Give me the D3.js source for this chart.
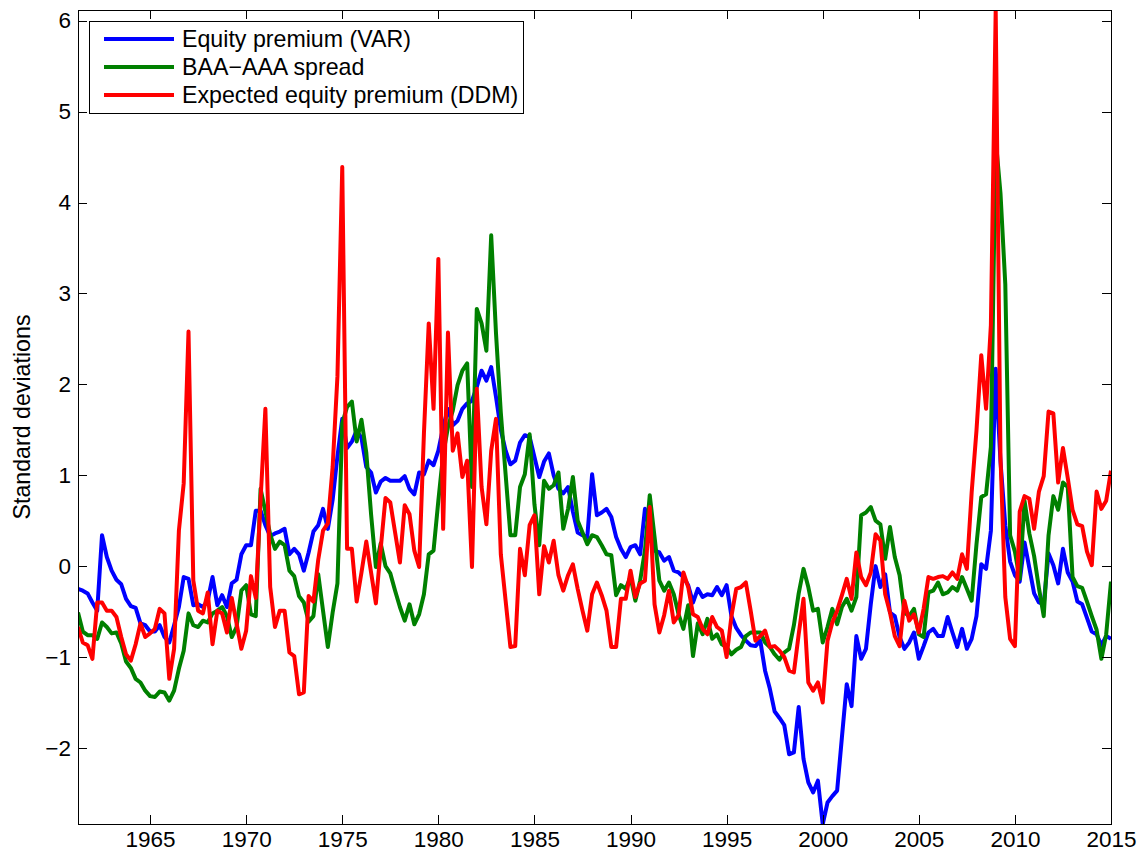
<!DOCTYPE html>
<html><head><meta charset="utf-8">
<script src="https://cdn.jsdelivr.net/npm/d3@7"></script>
<style>
body{margin:0;background:#fff}
svg{display:block}
text{font-family:"Liberation Sans",Arial,Helvetica,sans-serif;fill:#000}
</style>
</head><body>
<svg id="chart" width="1144" height="858"></svg>
<script>
// ---- data ----
const startQuarter = 1961.25;      // first observation (quarterly)
const xTicks = [1965, 1970, 1975, 1980, 1985, 1990, 1995, 2000, 2005, 2010, 2015];
const yTicks = [-2, -1, 0, 1, 2, 3, 4, 5, 6];
const seriesNames = ["Equity premium (VAR)", "BAA\u2212AAA spread", "Expected equity premium (DDM)"];
const seriesColors = ["#0000ff", "#008000", "#ff0000"];

const equityVAR = [
-0.25,-0.27,-0.30,-0.40,-0.49,0.34,0.10,-0.05,-0.15,-0.20,
-0.36,-0.44,-0.46,-0.63,-0.65,-0.72,-0.72,-0.65,-0.78,-0.84,
-0.65,-0.45,-0.12,-0.14,-0.43,-0.42,-0.45,-0.38,-0.12,-0.43,
-0.32,-0.45,-0.19,-0.15,0.13,0.23,0.23,0.61,0.61,0.45,
0.33,0.36,0.38,0.41,0.13,0.19,0.13,-0.05,0.15,0.38,
0.45,0.63,0.41,0.73,1.21,1.62,1.30,1.37,1.49,1.41,
1.09,1.03,0.81,0.93,0.97,0.94,0.94,0.94,0.99,0.85,
0.79,1.03,1.01,1.16,1.11,1.27,1.53,1.73,1.55,1.60,
1.73,1.79,1.82,1.97,2.15,2.04,2.19,1.86,1.50,1.27,
1.12,1.16,1.36,1.44,1.42,1.20,0.98,1.15,1.24,1.00,
0.85,0.80,0.87,0.60,0.37,0.34,0.32,1.01,0.56,0.59,
0.63,0.54,0.32,0.19,0.10,0.21,0.23,0.13,0.63,0.40,
0.17,0.15,0.06,0.10,-0.05,-0.07,-0.12,-0.21,-0.40,-0.25,
-0.34,-0.31,-0.32,-0.23,-0.32,-0.21,-0.55,-0.68,-0.76,-0.82,
-0.87,-0.88,-0.82,-1.15,-1.35,-1.60,-1.67,-1.75,-2.07,-2.05,
-1.55,-2.12,-2.38,-2.49,-2.36,-2.84,-2.60,-2.53,-2.47,-1.88,
-1.30,-1.54,-0.77,-1.02,-0.91,-0.42,0.00,-0.23,-0.09,-0.51,
-0.55,-0.78,-0.91,-0.84,-0.73,-1.02,-0.88,-0.73,-0.69,-0.77,
-0.77,-0.56,-0.73,-0.89,-0.69,-0.91,-0.80,-0.55,0.02,-0.03,
0.39,2.17,1.15,0.45,0.05,-0.10,-0.17,0.26,-0.02,-0.30,
-0.40,-0.42,0.14,0.01,-0.19,0.19,-0.07,-0.17,-0.39,-0.42,
-0.57,-0.72,-0.75,-0.87,-0.77,-0.80
];

const baaAaaSpread = [
-0.51,-0.72,-0.76,-0.76,-0.80,-0.62,-0.67,-0.74,-0.73,-0.85,
-1.05,-1.12,-1.24,-1.28,-1.37,-1.43,-1.44,-1.38,-1.39,-1.48,
-1.37,-1.13,-0.93,-0.52,-0.65,-0.67,-0.60,-0.62,-0.52,-0.49,
-0.45,-0.55,-0.78,-0.67,-0.27,-0.21,-0.53,-0.55,0.85,0.60,
0.35,0.19,0.27,0.23,-0.05,-0.11,-0.33,-0.40,-0.61,-0.55,
-0.09,-0.49,-0.89,-0.51,-0.19,1.57,1.75,1.81,1.37,1.61,
1.25,0.57,-0.01,0.25,0.00,-0.08,-0.27,-0.45,-0.60,-0.42,
-0.64,-0.53,-0.31,0.13,0.17,0.72,1.23,1.53,1.71,1.99,
2.15,2.23,0.87,2.83,2.67,2.37,3.64,2.56,1.69,1.01,
0.34,0.34,0.87,1.01,1.45,0.68,0.23,0.94,0.85,0.89,
1.03,0.41,0.63,0.98,0.50,0.37,0.24,0.34,0.32,0.23,
0.13,0.12,-0.32,-0.21,-0.25,-0.12,-0.38,-0.16,0.17,0.78,
0.32,-0.16,-0.27,-0.18,-0.31,-0.53,-0.69,-0.43,-0.99,-0.63,
-0.75,-0.58,-0.80,-0.75,-0.86,-0.89,-0.97,-0.92,-0.89,-0.77,
-0.73,-0.73,-0.73,-0.84,-0.89,-0.97,-1.03,-0.95,-0.91,-0.65,
-0.30,-0.03,-0.23,-0.49,-0.47,-0.84,-0.67,-0.47,-0.64,-0.45,
-0.36,-0.49,-0.34,0.56,0.59,0.65,0.50,0.46,0.08,0.43,
0.10,-0.10,-0.51,-0.55,-0.47,-0.75,-0.78,-0.29,-0.27,-0.18,
-0.31,-0.29,-0.23,-0.27,-0.12,-0.25,-0.38,0.24,0.76,0.79,
1.31,4.70,4.10,3.10,0.34,0.16,-0.14,0.72,0.36,0.11,
-0.24,-0.55,0.34,0.77,0.62,0.92,0.87,-0.12,-0.22,-0.24,
-0.39,-0.55,-0.70,-1.02,-0.75,-0.17
];

const expectedDDM = [
-0.67,-0.84,-0.87,-1.02,-0.40,-0.40,-0.49,-0.49,-0.56,-0.78,
-0.97,-1.04,-0.86,-0.63,-0.78,-0.74,-0.69,-0.47,-0.52,-1.24,
-0.91,0.39,0.91,2.58,-0.16,-0.49,-0.52,-0.29,-0.86,-0.49,
-0.52,-0.73,-0.35,-0.63,-0.91,-0.71,-0.11,-0.35,0.73,1.73,
-0.23,-0.67,-0.49,-0.49,-0.95,-0.99,-1.41,-1.39,-0.33,-0.39,
0.07,0.39,0.47,1.09,2.09,4.39,0.19,0.19,-0.39,-0.07,
0.27,-0.07,-0.41,0.19,0.75,0.70,0.37,0.04,0.67,0.57,
0.17,-0.01,1.46,2.67,1.73,3.38,0.41,2.57,1.27,1.46,
0.98,1.16,-0.01,1.95,0.87,0.46,1.27,1.62,0.13,-0.38,
-0.89,-0.88,0.19,-0.10,0.45,0.56,-0.31,0.22,0.04,0.28,
-0.10,-0.27,-0.10,0.02,-0.25,-0.49,-0.71,-0.31,-0.18,-0.32,
-0.49,-0.89,-0.89,-0.36,-0.36,-0.05,-0.34,-0.19,-0.16,0.65,
-0.42,-0.73,-0.54,-0.27,-0.62,-0.54,-0.07,-0.23,-0.53,-0.56,
-0.69,-0.75,-0.56,-0.67,-0.71,-1.00,-0.55,-0.25,-0.23,-0.18,
-0.49,-0.82,-0.77,-0.71,-0.89,-0.88,-0.93,-1.00,-1.15,-1.17,
-0.75,-0.36,-1.28,-1.37,-1.28,-1.50,-0.82,-0.62,-0.49,-0.32,
-0.14,-0.36,0.15,-0.12,-0.21,-0.07,0.35,0.28,-0.31,-0.51,
-0.77,-0.88,-0.38,-0.60,-0.53,-0.73,-0.47,-0.12,-0.14,-0.12,
-0.11,-0.14,-0.07,-0.14,0.13,-0.03,0.81,1.49,2.32,1.73,
2.65,6.12,1.20,-0.34,-0.80,-0.88,0.60,0.77,0.74,0.41,
0.82,0.99,1.70,1.68,0.92,1.30,0.97,0.62,0.46,0.44,
0.16,0.01,0.82,0.63,0.72,1.05
];

const dates = equityVAR.map((_, i) => startQuarter + i / 4);
const allSeries = [equityVAR, baaAaaSpread, expectedDDM];

// ---- layout ----
const W = 1144, H = 858;
const plot = {left: 78, right: 1111, top: 10, bottom: 824};
const svg = d3.select("#chart");
svg.append("rect").attr("width", W).attr("height", H).attr("fill", "#fff");

const x = d3.scaleLinear().domain([1961.25, 2015.0]).range([plot.left, plot.right]);
const y = d3.scaleLinear().domain([-2.837, 6.118]).range([plot.bottom, plot.top]);

svg.append("clipPath").attr("id", "clip")
  .append("rect").attr("x", plot.left).attr("y", plot.top)
  .attr("width", plot.right - plot.left).attr("height", plot.bottom - plot.top);

// ---- lines ----
const line = d3.line().x((d, i) => x(dates[i])).y(d => y(d));
const gLines = svg.append("g").attr("clip-path", "url(#clip)");
allSeries.forEach((s, k) => {
  gLines.append("path").datum(s)
    .attr("d", line)
    .attr("fill", "none")
    .attr("stroke", seriesColors[k])
    .attr("stroke-width", 4)
    .attr("stroke-linejoin", "round")
    .attr("stroke-linecap", "butt");
});

// ---- axes ----
const fs = 22.5;
const legendFs = 23.2;
const tickLen = 9;
const gx = svg.append("g").attr("transform", `translate(0,${plot.bottom})`)
  .call(d3.axisBottom(x).tickValues(xTicks).tickFormat(d3.format("d"))
    .tickSizeInner(-tickLen).tickSizeOuter(0).tickPadding(7));
const gxt = svg.append("g").attr("transform", `translate(0,${plot.top})`)
  .call(d3.axisTop(x).tickValues(xTicks).tickFormat("")
    .tickSizeInner(-tickLen).tickSizeOuter(0));
const gy = svg.append("g").attr("transform", `translate(${plot.left},0)`)
  .call(d3.axisLeft(y).tickValues(yTicks).tickFormat(d3.format("d"))
    .tickSizeInner(-tickLen).tickSizeOuter(0).tickPadding(7));
const gyr = svg.append("g").attr("transform", `translate(${plot.right},0)`)
  .call(d3.axisRight(y).tickValues(yTicks).tickFormat("")
    .tickSizeInner(-tickLen).tickSizeOuter(0));

[gx, gxt, gy, gyr].forEach(g => {
  g.selectAll("path.domain").attr("stroke", "#000").attr("stroke-width", 1).attr("shape-rendering", "crispEdges");
  g.selectAll(".tick line").attr("stroke", "#000").attr("stroke-width", 1).attr("shape-rendering", "crispEdges");
  g.selectAll(".tick text").attr("font-size", fs).attr("font-family", '"Liberation Sans",Arial,sans-serif').attr("fill", "#000");
});
// full box
svg.append("rect").attr("x", plot.left + 0.5).attr("y", plot.top + 0.5)
  .attr("width", plot.right - plot.left).attr("height", plot.bottom - plot.top)
  .attr("fill", "none").attr("stroke", "#000").attr("stroke-width", 1);

// y label
svg.append("text")
  .attr("transform", `translate(30,${(plot.top + plot.bottom) / 2}) rotate(-90)`)
  .attr("text-anchor", "middle")
  .attr("font-size", legendFs)
  .text("Standard deviations");

// ---- legend ----
const lg = {x: 89, y: 21, w: 434, h: 92};
const gl = svg.append("g");
gl.append("rect").attr("x", lg.x + 0.5).attr("y", lg.y + 0.5).attr("width", lg.w).attr("height", lg.h)
  .attr("fill", "#fff").attr("stroke", "#000").attr("stroke-width", 1);
seriesNames.forEach((name, k) => {
  const cy = lg.y + 18 + k * 28;
  gl.append("line").attr("x1", lg.x + 15).attr("x2", lg.x + 85).attr("y1", cy).attr("y2", cy)
    .attr("stroke", seriesColors[k]).attr("stroke-width", 4);
  gl.append("text").attr("x", lg.x + 93).attr("y", cy).attr("dy", "0.35em")
    .attr("font-size", legendFs).text(name);
});
</script>
</body></html>
